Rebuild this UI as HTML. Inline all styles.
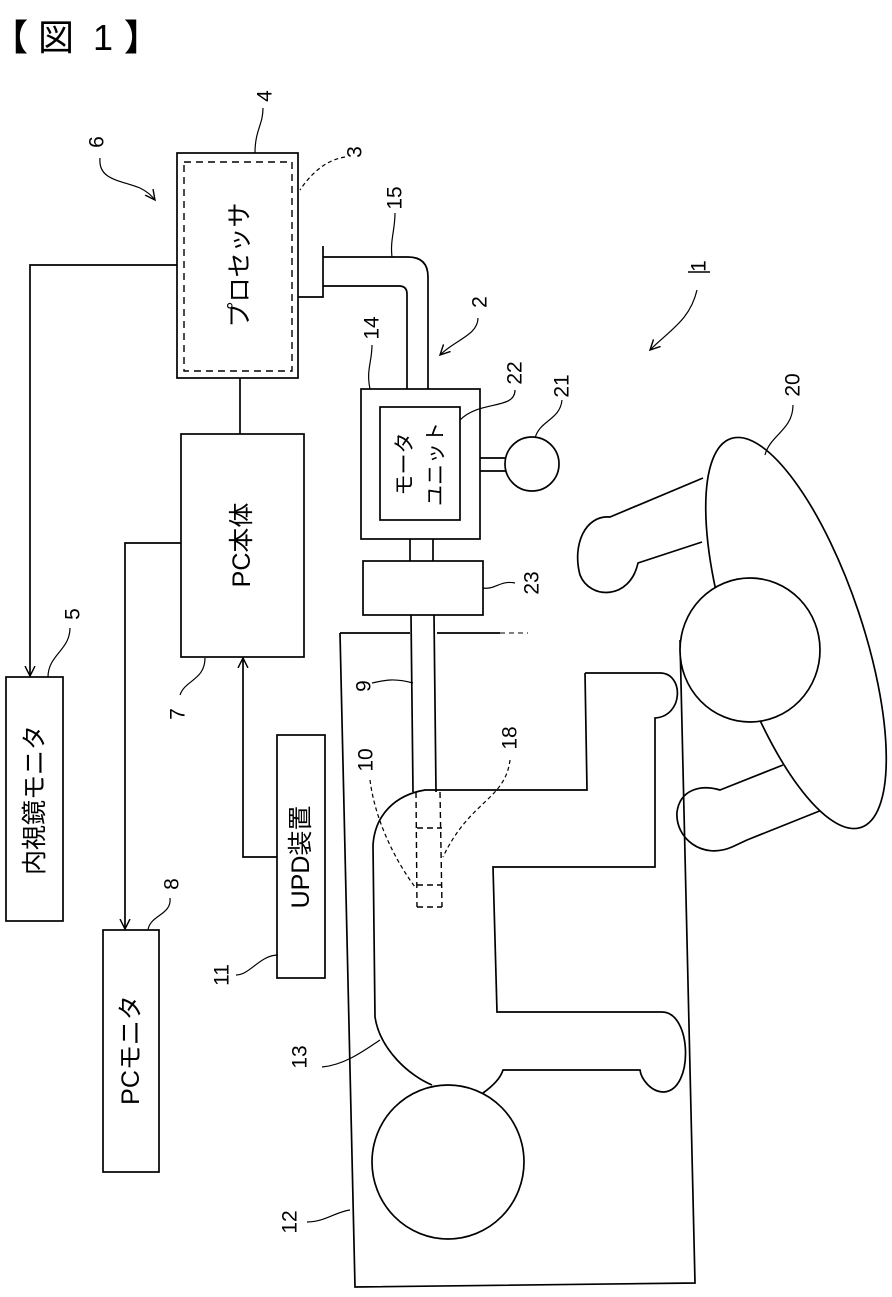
<!DOCTYPE html>
<html><head><meta charset="utf-8"><style>
html,body{margin:0;padding:0;background:#fff}
svg{display:block}
text{font-family:"Liberation Sans","Noto Sans CJK JP",sans-serif;fill:#000}
</style></head><body>
<svg width="892" height="1297" viewBox="0 0 892 1297" xmlns="http://www.w3.org/2000/svg">
<defs><marker id="ah" markerWidth="12" markerHeight="12" refX="10" refY="6" orient="auto" markerUnits="userSpaceOnUse"><path d="M0,1 L10,6 L0,11" fill="none" stroke="#000" stroke-width="1.4"/></marker></defs>
<text x="-8" y="50" font-size="36" font-weight="bold">【</text>
<text x="38" y="50" font-size="36">図</text>
<text x="93" y="50" font-size="36">1</text>
<text x="124" y="50" font-size="36" font-weight="bold">】</text>

<g fill="none" stroke="#000" stroke-width="1.7">
<rect x="177" y="153" width="121" height="225"/>
<rect x="184" y="162" width="108" height="209" stroke-dasharray="7,5" stroke-width="1.4"/>
<polyline points="177,265 30,265 30,676" marker-end="url(#ah)"/>
<rect x="6" y="677" width="57" height="244"/>
<line x1="240" y1="378" x2="240" y2="434"/>
<rect x="181" y="434" width="123" height="223"/>
<polyline points="181,543 125,543 125,929" marker-end="url(#ah)"/>
<rect x="103" y="930" width="56" height="242"/>
<polyline points="277,857 243,857 243,658" marker-end="url(#ah)"/>
<rect x="277" y="735" width="48" height="243"/>
<polyline points="298,297 323,297 323,246"/>
<path d="M323,257 L408,257 Q428,257 428,277 L428,389"/>
<path d="M323,286 L399,286 Q407,286 407,294 L407,389"/>
<rect x="361" y="389" width="119" height="150"/>
<rect x="380" y="407" width="80" height="113"/>
<line x1="480" y1="458" x2="506" y2="458"/>
<line x1="480" y1="471" x2="506" y2="471"/>
<circle cx="532" cy="464" r="27"/>
<line x1="410" y1="539" x2="410" y2="561"/>
<line x1="433" y1="539" x2="433" y2="561"/>
<rect x="363" y="561" width="120" height="54"/>
<line x1="411" y1="615" x2="413" y2="792"/>
<line x1="434" y1="615" x2="436" y2="792"/>
<g stroke-dasharray="6,4" stroke-width="1.4">
<line x1="416" y1="792" x2="417" y2="907"/>
<line x1="440" y1="792" x2="442" y2="907"/>
<line x1="417" y1="828" x2="442" y2="828"/>
<line x1="417" y1="885" x2="442" y2="885"/>
<line x1="417" y1="907" x2="442" y2="907"/>
</g>
<polyline points="340,633 355,1287 695,1283 680,640"/>
<line x1="340" y1="633" x2="410" y2="633"/>
<line x1="437" y1="633" x2="500" y2="633"/>
<line x1="500" y1="633" x2="528" y2="633" stroke-dasharray="5,4" stroke-width="1"/>
<path d="M585,673 L660,673 C684,673 684,716 655,718 L655,867 L493,867 L497,1012 L662,1012 C692,1012 694,1090 664,1092 C650,1092 641,1078 640,1070 L503,1070 C500,1080 490,1088 483,1093"/>
<path d="M585,673 L587,790 L425,790 C395,795 375,815 373,845 L375,1017 C380,1050 410,1076 432,1085"/>
<ellipse cx="448" cy="1162" rx="76" ry="77" fill="#fff"/>
<path d="M703,478 L610,517 C585,515 572,545 580,575 C590,600 630,600 638,563 L702,542"/>
<path d="M783,765 L720,790 C700,784 680,790 677,812 C675,838 702,860 732,847 L747,840 L822,810"/>
<ellipse cx="796" cy="633" rx="205" ry="66" transform="rotate(71.5 796 633)" fill="#fff"/>
<ellipse cx="750" cy="650" rx="70" ry="72" fill="#fff"/>
</g>

<g fill="none" stroke="#000" stroke-width="1.2">
<path d="M263,108 C263,125 255,130 255,153"/>
<path d="M345,157 C325,160 310,175 300,190" stroke-dasharray="4,3"/>
<path d="M100,158 C98,180 120,180 140,188 C148,192 152,196 155,200" marker-end="url(#ah)"/>
<path d="M395,213 C395,230 390,240 392,257"/>
<path d="M478,318 C478,335 455,340 440,355" marker-end="url(#ah)"/>
<path d="M372,345 C372,362 366,370 370,389"/>
<path d="M515,390 C515,410 480,400 460,420"/>
<path d="M562,400 C560,420 540,420 535,438"/>
<path d="M515,583 C500,580 495,590 483,588"/>
<path d="M697,290 C690,320 670,330 650,350" marker-end="url(#ah)"/>
<path d="M793,405 C793,430 770,435 765,455"/>
<path d="M70,628 C70,650 48,655 48,677"/>
<path d="M180,695 C185,680 205,680 205,658"/>
<path d="M170,898 C172,915 150,915 148,930"/>
<path d="M236,975 C250,975 260,955 278,955"/>
<path d="M372,683 C385,680 395,678 413,683"/>
<path d="M370,780 C375,820 395,860 415,887" stroke-dasharray="4,3"/>
<path d="M510,760 C505,800 470,800 443,857" stroke-dasharray="4,3"/>
<path d="M322,1067 C345,1065 365,1050 380,1040"/>
<path d="M307,1222 C325,1222 335,1212 350,1210"/>
</g>
<line x1="688" y1="272" x2="710" y2="272" stroke="#000" stroke-width="1.4"/>

<g font-size="25" text-anchor="middle" dominant-baseline="central">
<text transform="translate(240,265) rotate(-90)">プロセッサ</text>
<text transform="translate(242,545) rotate(-90)">PC本体</text>
<text transform="translate(35,800) rotate(-90)">内視鏡モニタ</text>
<text transform="translate(131,1050) rotate(-90)">PCモニタ</text>
<text transform="translate(301,857) rotate(-90)">UPD装置</text>
<text font-size="21" transform="translate(405,464) rotate(-90)">モータ</text>
<text font-size="21" transform="translate(436,464) rotate(-90)">ユニット</text>
</g>
<g font-size="21" text-anchor="middle" dominant-baseline="central">
<text transform="translate(265,96) rotate(-90)">4</text>
<text transform="translate(355,152) rotate(-90)">3</text>
<text transform="translate(97,142) rotate(-90)">6</text>
<text transform="translate(395,198) rotate(-90)">15</text>
<text transform="translate(480,302) rotate(-90)">2</text>
<text transform="translate(372,328) rotate(-90)">14</text>
<text transform="translate(515,373) rotate(-90)">22</text>
<text transform="translate(562,386) rotate(-90)">21</text>
<text transform="translate(532,583) rotate(-90)">23</text>
<text transform="translate(699,266) rotate(-90)">1</text>
<text transform="translate(793,385) rotate(-90)">20</text>
<text transform="translate(73,614) rotate(-90)">5</text>
<text transform="translate(178,714) rotate(-90)">7</text>
<text transform="translate(172,884) rotate(-90)">8</text>
<text transform="translate(222,975) rotate(-90)">11</text>
<text transform="translate(364,686) rotate(-90)">9</text>
<text transform="translate(366,760) rotate(-90)">10</text>
<text transform="translate(510,738) rotate(-90)">18</text>
<text transform="translate(300,1057) rotate(-90)">13</text>
<text transform="translate(290,1222) rotate(-90)">12</text>
</g>
</svg>
</body></html>
